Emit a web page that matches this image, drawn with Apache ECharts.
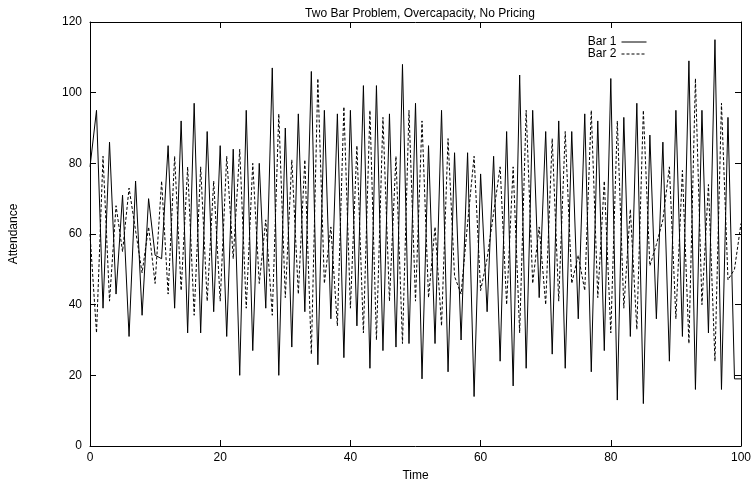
<!DOCTYPE html>
<html>
<head>
<meta charset="utf-8">
<script src="https://cdn.jsdelivr.net/npm/echarts@6/dist/echarts.min.js"></script>
<style>html,body{margin:0;padding:0;background:#fff}#c{width:755px;height:487px}</style>
</head>
<body>
<div id="c"></div>
<script>
const titleText = "Two Bar Problem, Overcapacity, No Pricing";
const xName = "Time";
const yName = "Attendance";
const seriesNames = ["Bar 1", "Bar 2"];
const xTicks = [0, 20, 40, 60, 80, 100];
const yTicks = [0, 20, 40, 60, 80, 100, 120];
const bar1 = [79,95,39,86,43,71,31,75,37,70,54,53,85,39,92,32,97,32,89,38,
  85,31,84,20,95,27,80,39,107,20,90,28,94,38,106,23,95,36,94,25,
  95,34,102,22,102,27,94,28,108,29,97,19,85,29,95,21,83,30,83,14,
  77,38,82,24,89,17,105,22,95,42,89,26,92,22,89,36,94,21,92,27,
  104,13,93,31,97,12,88,36,86,24,95,31,109,16,95,32,115,16,93,19,19];
const bar2 = [60,32,82,41,68,55,73,61,49,62,46,75,43,82,44,79,37,79,41,75,
  41,82,53,84,39,80,46,64,37,94,42,81,43,81,26,104,46,62,34,96,
  39,85,32,95,30,93,41,82,29,95,41,92,42,62,34,87,48,43,63,82,
  44,53,66,79,40,79,32,95,46,62,40,87,41,89,46,54,44,95,42,75,
  32,92,39,67,33,95,51,57,64,79,36,78,29,104,40,74,24,97,47,50,63];

const toPairs = arr => arr.map((v, i) => [i, v]);
const chart = echarts.init(document.getElementById('c'), null, {renderer: 'canvas'});
const font = 'Liberation Sans, Arial, sans-serif';
const axisCommon = {
  axisLine: {show: true, onZero: false, lineStyle: {color: '#000', width: 1}},
  axisTick: {show: true, inside: true, length: 6, lineStyle: {color: '#000'}},
  splitLine: {show: false}
};
chart.setOption({
  animation: false,
  backgroundColor: '#fff',
  title: {text: titleText, left: 415, textAlign: 'center', top: 3,
    textStyle: {fontFamily: font, fontSize: 12, fontWeight: 'normal', color: '#000'}},
  legend: {
    data: seriesNames, orient: 'vertical', align: 'right', right: 103, top: 31,
    itemWidth: 25, itemHeight: 8, itemGap: 0, itemSpacing: 7,
    itemStyle: {opacity: 0},
    lineStyle: {width: 1},
    textStyle: {fontFamily: font, fontSize: 12, color: '#000', lineHeight: 12}
  },
  grid: {left: 90, right: 14, top: 22, bottom: 35, containLabel: false},
  xAxis: [
    Object.assign({type: 'value', min: xTicks[0], max: xTicks[xTicks.length-1], interval: 20,
      name: xName, nameLocation: 'middle', nameGap: 24,
      nameTextStyle: {fontFamily: font, fontSize: 12, color: '#000'},
      axisLabel: {fontFamily: font, fontSize: 12, color: '#000', margin: 6}}, axisCommon),
    Object.assign({type: 'value', position: 'top', min: 0, max: 100, interval: 20,
      axisLabel: {show: false}}, axisCommon)
  ],
  yAxis: [
    Object.assign({type: 'value', min: yTicks[0], max: yTicks[yTicks.length-1], interval: 20,
      name: yName, nameLocation: 'middle', nameGap: 70, nameRotate: 90,
      nameTextStyle: {fontFamily: font, fontSize: 12, color: '#000'},
      axisLabel: {fontFamily: font, fontSize: 12, color: '#000', margin: 8}}, axisCommon),
    Object.assign({type: 'value', position: 'right', min: 0, max: 120, interval: 20,
      axisLabel: {show: false}}, axisCommon)
  ],
  series: [
    {name: seriesNames[0], type: 'line', data: toPairs(bar1), symbol: 'none',
      lineStyle: {color: '#000', width: 1, type: 'solid'}, itemStyle: {color: '#000'}},
    {name: seriesNames[1], type: 'line', data: toPairs(bar2), symbol: 'none',
      lineStyle: {color: '#000', width: 1, type: [3, 2]}, itemStyle: {color: '#000'}}
  ]
});
</script>
</body>
</html>
